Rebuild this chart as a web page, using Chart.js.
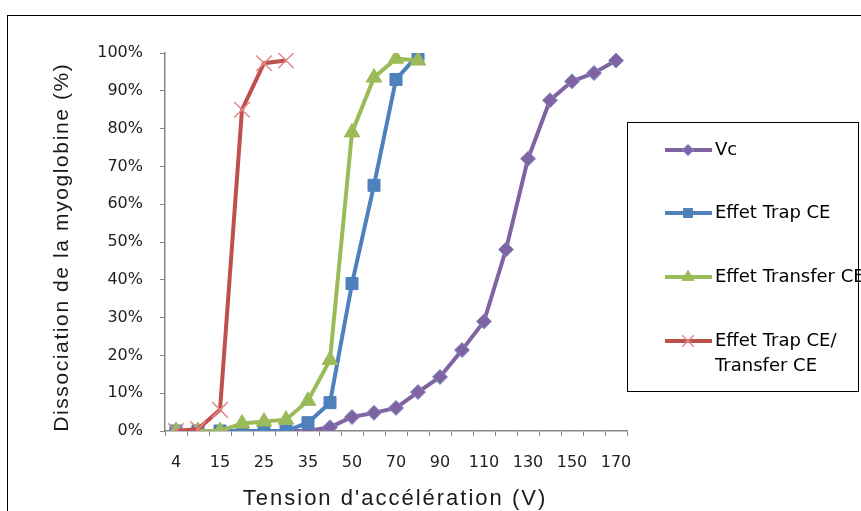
<!DOCTYPE html>
<html>
<head>
<meta charset="utf-8">
<script src="https://cdn.jsdelivr.net/npm/chart.js@4.4.1/dist/chart.umd.min.js"></script>
<style>
  html, body { margin: 0; padding: 0; background: #fff; }
  #wrap { width: 861px; height: 511px; }
</style>
</head>
<body>
<div id="wrap"><canvas id="chart" width="861" height="511"></canvas></div>
<script>
// données
const voltages = ['4', '10', '15', '20', '25', '30', '35', '40', '50', '60', '70',
                  '80', '90', '100', '110', '120', '130', '140', '150', '160', '170'];
const vcValues = [0, 0, 0, 0, 0, 0, 0, 1, 3.7, 4.8, 6.1, 10.3, 14.3, 21.4, 29, 48, 72, 87.5, 92.5, 94.7, 98];
const trapValues = [0, 0, 0, 0, 0, 0, 2.2, 7.5, 39, 65, 93, 99.5];
const transferValues = [0, 0, 0, 2, 2.5, 3, 8, 18.8, 79, 93.5, 98.5, 98];
const trapTransferValues = [0, 0.5, 5.6, 85, 97.3, 98];
const yTicks = [0, 10, 20, 30, 40, 50, 60, 70, 80, 90, 100];

const seriesNames = ['Vc', 'Effet Trap CE', 'Effet Transfer CE', ['Effet Trap CE/', 'Transfer CE']];

const PURPLE = '#8064A2';
const BLUE = '#4F81BD';
const GREEN = '#9BBB59';
const RED = '#C0504D';
const AXIS = '#868686';

// cadre extérieur + titres des axes
const framePlugin = {
    id: 'frame',
    afterDraw(chart) {
        const ctx = chart.ctx;
        ctx.save();
        ctx.strokeStyle = '#000';
        ctx.lineWidth = 1;
        ctx.strokeRect(7.5, 15.5, 900, 600);

        ctx.fillStyle = '#1a1a1a';
        ctx.font = '21px "Liberation Sans", Arial, sans-serif';
        ctx.letterSpacing = '1.6px';
        ctx.textBaseline = 'alphabetic';
        ctx.textAlign = 'left';
        let t = 'Dissociation de la myoglobine (%)';
        let w = ctx.measureText(t).width - 1.6;
        ctx.save();
        ctx.translate(68, 248);
        ctx.rotate(-Math.PI / 2);
        ctx.fillText(t, -w / 2, 0);
        ctx.restore();

        ctx.font = '22px "Liberation Sans", Arial, sans-serif';
        ctx.letterSpacing = '2px';
        t = "Tension d'accélération (V)";
        w = ctx.measureText(t).width - 2;
        ctx.fillText(t, 394 - w / 2, 505);
        ctx.restore();
    }
};

// légende dans un cadre à droite
const legendPlugin = {
    id: 'boxLegend',
    afterDraw(chart) {
        const ctx = chart.ctx;
        ctx.save();
        ctx.strokeStyle = '#000';
        ctx.lineWidth = 1;
        ctx.strokeRect(627.5, 122.5, 231, 269);

        const rows = [150, 213, 277, 341];
        chart.data.datasets.forEach((ds, i) => {
            const y = rows[i];
            ctx.strokeStyle = ds.borderColor;
            ctx.lineWidth = 4;
            ctx.beginPath();
            ctx.moveTo(665, y);
            ctx.lineTo(712, y);
            ctx.stroke();
            if (Chart.helpers && Chart.helpers.drawPoint) {
                ctx.fillStyle = ds.pointBackgroundColor;
                ctx.strokeStyle = ds.pointBorderColor;
                ctx.lineWidth = ds.pointBorderWidth;
                Chart.helpers.drawPoint(ctx, {
                    pointStyle: ds.pointStyle,
                    radius: ds.pointRadius * 0.75,
                    borderWidth: ds.pointBorderWidth,
                    rotation: 0
                }, 688, y);
            }
            ctx.fillStyle = '#000';
            ctx.font = '18px "DejaVu Sans", Verdana, sans-serif';
            ctx.textBaseline = 'middle';
            ctx.textAlign = 'left';
            const lines = Array.isArray(seriesNames[i]) ? seriesNames[i] : [seriesNames[i]];
            lines.forEach((l, k) => ctx.fillText(l, 715, y + k * 25));
        });
        ctx.restore();
    }
};

function initChart() {
    const ctx = document.getElementById('chart');
    new Chart(ctx, {
        type: 'line',
        data: {
            labels: voltages,
            datasets: [
                {
                    label: 'Vc',
                    data: vcValues,
                    borderColor: PURPLE,
                    backgroundColor: PURPLE,
                    borderWidth: 4,
                    pointStyle: 'rectRot',
                    pointRadius: 7.5,
                    pointBackgroundColor: PURPLE,
                    pointBorderColor: '#7d8fc8',
                    pointBorderWidth: 1,
                    order: 3
                },
                {
                    label: 'Effet Trap CE',
                    data: trapValues,
                    borderColor: BLUE,
                    backgroundColor: BLUE,
                    borderWidth: 4,
                    pointStyle: 'rect',
                    pointRadius: 8.5,
                    pointBackgroundColor: BLUE,
                    pointBorderColor: BLUE,
                    pointBorderWidth: 1,
                    order: 2
                },
                {
                    label: 'Effet Transfer CE',
                    data: transferValues,
                    borderColor: GREEN,
                    backgroundColor: GREEN,
                    borderWidth: 4,
                    pointStyle: 'triangle',
                    pointRadius: 9,
                    pointBackgroundColor: GREEN,
                    pointBorderColor: GREEN,
                    pointBorderWidth: 1,
                    order: 1
                },
                {
                    label: 'Effet Trap CE/ Transfer CE',
                    data: trapTransferValues,
                    borderColor: RED,
                    backgroundColor: RED,
                    borderWidth: 4,
                    pointStyle: 'crossRot',
                    pointRadius: 11,
                    pointBackgroundColor: RED,
                    pointBorderColor: '#e08a88',
                    pointBorderWidth: 1.5,
                    order: 0
                }
            ]
        },
        options: {
            responsive: false,
            animation: false,
            devicePixelRatio: 1,
            layout: { padding: { left: 0, top: 53, right: 234, bottom: 0 } },
            elements: { line: { tension: 0 } },
            plugins: {
                legend: { display: false },
                tooltip: { enabled: false }
            },
            scales: {
                x: {
                    type: 'category',
                    offset: true,
                    grid: {
                        offset: true,
                        drawOnChartArea: false,
                        drawTicks: true,
                        tickLength: 5,
                        color: AXIS
                    },
                    border: { color: AXIS, width: 1.5 },
                    ticks: {
                        autoSkip: false,
                        maxRotation: 0,
                        padding: 17,
                        color: '#222',
                        font: { family: '"DejaVu Sans", Verdana, sans-serif', size: 16 },
                        callback: (v, i) => (i % 2 === 0 ? voltages[i] : '')
                    },
                    afterFit: s => { s.height = 80; }
                },
                y: {
                    min: 0,
                    max: 100,
                    afterBuildTicks: s => { s.ticks = yTicks.map(v => ({ value: v })); },
                    grid: {
                        drawOnChartArea: false,
                        drawTicks: true,
                        tickLength: 5,
                        color: AXIS
                    },
                    border: { color: AXIS, width: 1.5 },
                    ticks: {
                        padding: 17,
                        color: '#222',
                        font: { family: '"DejaVu Sans", Verdana, sans-serif', size: 16 },
                        callback: v => v + '%'
                    },
                    afterFit: s => { s.width = 165; }
                }
            }
        },
        plugins: [framePlugin, legendPlugin]
    });
}

document.addEventListener('DOMContentLoaded', initChart);
</script>
</body>
</html>
